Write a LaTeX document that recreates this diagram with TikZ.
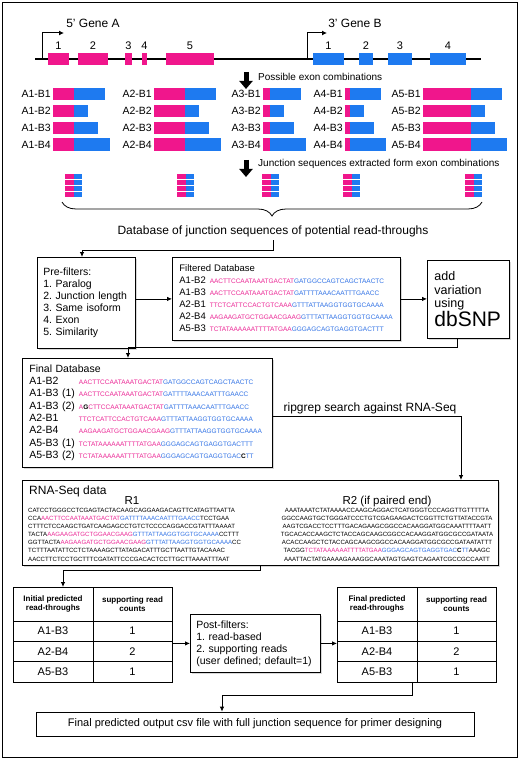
\documentclass[tikz,border=0pt]{standalone}
\usepackage{fontspec}
\setmainfont{Liberation Sans}
\usepackage{array}
\usetikzlibrary{arrows.meta,decorations.pathreplacing,shadows}
\frenchspacing

\definecolor{exonA}{RGB}{240,22,140}
\definecolor{exonB}{RGB}{30,122,240}
\definecolor{seqA}{RGB}{236,40,150}
\definecolor{seqB}{RGB}{50,115,230}

\newcommand{\seqa}[1]{\textcolor{seqA}{#1}}
\newcommand{\seqb}[1]{\textcolor{seqB}{#1}}
\newcommand{\snp}[1]{\textbf{#1}}
\newcommand{\seqfont}{\fontsize{6.5}{7}\selectfont}
\newcommand{\readfont}{\fontsize{6.1}{8.1}\selectfont}

\tikzset{
  box/.style={draw, line width=0.8pt, fill=white, drop shadow={shadow xshift=1.2pt, shadow yshift=-1.2pt, opacity=0.3}},
  conn/.style={line width=0.8pt, -{Latex[length=5pt,width=4.5pt]}},
  bigarrow/.style={line width=5pt, -{Triangle[length=8pt,width=13pt]}},
  exon/.style={fill=#1, minimum height=12.5pt, inner sep=0pt, outer sep=0pt},
  exonnum/.style={font=\fontsize{11}{13}\selectfont, inner sep=1pt},
  combo/.style={font=\fontsize{10.5}{12}\selectfont, inner sep=1pt, anchor=east},
  cell/.style={draw, line width=0.8pt, inner sep=0pt, outer sep=0pt, minimum height=20.33pt, font=\fontsize{11}{13}\selectfont},
  hdr/.style={minimum height=34pt, align=center, font=\bfseries\fontsize{8}{9.5}\selectfont},
}

\begin{document}
\begin{tikzpicture}[x=1pt,y=-1pt]
\useasboundingbox (0,0) rectangle (520,762);
\draw[line width=0.8pt, fill=white, drop shadow={shadow xshift=1.2pt, shadow yshift=-1.2pt, opacity=0.3}] (2,2) rectangle (517,757);

% gene structure
\draw[line width=1.5pt] (35,59) -- (481,59);
\coordinate (tssA) at (42,59);
\coordinate (tssB) at (307,59);
\draw[line width=1pt, -{Latex[length=5pt,width=5pt]}] (tssA) |- ++(22,-26);
\draw[line width=1pt, -{Latex[length=5pt,width=5pt]}] (tssB) |- ++(20,-26);
\node[font=\fontsize{12}{14}\selectfont] (geneA) at (93,23) {5' Gene A};
\node[font=\fontsize{12}{14}\selectfont] (geneB) at (355,23) {3' Gene B};
\foreach \n/\x/\w in {1/58.5/21, 2/93/30, 3/128.5/7, 4/144.5/5, 5/190/48} {
  \node[exon=exonA, minimum width=\w pt] (a\n) at (\x,59) {};
  \node[exonnum, above=2pt] (na\n) at (a\n.north) {\n};
}
\foreach \n/\x/\w in {1/328.5/31, 2/366/14, 3/400/24, 4/448/36} {
  \node[exon=exonB, minimum width=\w pt] (b\n) at (\x,59) {};
  \node[exonnum, above=2pt] (nb\n) at (b\n.north) {\n};
}

% exon combinations
\coordinate (ar1) at (246,72);
\draw[bigarrow] (ar1) -- ++(0,17);
\node[anchor=west, font=\fontsize{10}{12}\selectfont, inner sep=1pt] (poss) at (257,77) {Possible exon combinations};
\foreach \ga/\ax/\aw in {1/53/21, 2/154/31, 3/263/7, 4/345/5, 5/423/48}
  \foreach \gb/\bw in {1/31, 2/14, 3/24, 4/36} {
    \fill[exonA] (\ax,{88+16.8*(\gb-1)}) rectangle ++(\aw,12.5);
    \fill[exonB] ({\ax+\aw},{88+16.8*(\gb-1)}) rectangle ++(\bw,12.5);
    \node[combo] (c\ga\gb) at ({\ax-1},{94.25+16.8*(\gb-1)}) {A\ga-B\gb};
  }

% junction sequences
\coordinate (ar2) at (246,160);
\draw[bigarrow] (ar2) -- ++(0,17);
\node[anchor=west, font=\fontsize{10}{12}\selectfont, inner sep=1pt] (junc) at (257,164) {Junction sequences extracted form exon combinations};
\foreach \x in {65,177,262,343,465}
  \foreach \rw in {0,...,3} {
    \fill[exonA] (\x,{174+6*\rw}) rectangle ++(9,4.5);
    \fill[exonB] ({\x+9},{174+6*\rw}) rectangle ++(8,4.5);
  }
\draw[decorate, decoration={brace, amplitude=14pt}, line width=0.8pt] (482,202) -- (62,202);
\node[font=\fontsize{12}{14}\selectfont] (dbtitle) at (273,231) {Database of junction sequences of potential read-throughs};

% filtering
\node[box, anchor=north west, text width=86pt, inner xsep=6pt, minimum height=91pt, align=left, font=\fontsize{10.5}{12}\selectfont] (prefilt) at (37,257) {Pre-filters:\\1. Paralog\\2. Junction length\\3. Same isoform\\4. Exon\\5. Similarity};
\node[box, anchor=north west, text width=214pt, inner xsep=7pt, minimum height=83pt, align=left, font=\fontsize{9.5}{12}\selectfont] (filtdb) at (172,257) {%
\begin{tabular}{@{}l@{\hspace{4pt}}>{\seqfont}l@{}}
\multicolumn{2}{@{}l}{Filtered Database}\\
A1-B2 & \seqa{AACTTCCAATAAATGACTAT}\seqb{GATGGCCAGTCAGCTAACTC}\\
A1-B3 & \seqa{AACTTCCAATAAATGACTAT}\seqb{GATTTTAAACAATTTGAACC}\\
A2-B1 & \seqa{TTCTCATTCCACTGTCAAA}\seqb{GTTTATTAAGGTGGTGCAAAA}\\
A2-B4 & \seqa{AAGAAGATGCTGGAACGAAG}\seqb{GTTTATTAAGGTGGTGCAAAA}\\
A5-B3 & \seqa{TCTATAAAAAATTTTATGAA}\seqb{GGGAGCAGTGAGGTGACTTT}
\end{tabular}};
\node[box, anchor=north west, text width=68pt, inner xsep=7pt, minimum height=78pt, align=left, font=\fontsize{12.5}{13.5}\selectfont] (dbsnp) at (427,260) {add\\variation\\using\\{\fontsize{21}{22}\selectfont dbSNP}};
\node[box, anchor=north west, text width=236pt, inner xsep=7pt, minimum height=109pt, align=left, font=\fontsize{10.5}{12.3}\selectfont] (finaldb) at (22,358) {%
\begin{tabular}{@{}l@{\hspace{4pt}}>{\seqfont}l@{}}
\multicolumn{2}{@{}l}{Final Database}\\
A1-B2 & \seqa{AACTTCCAATAAATGACTAT}\seqb{GATGGCCAGTCAGCTAACTC}\\
A1-B3 (1) & \seqa{AACTTCCAATAAATGACTAT}\seqb{GATTTTAAACAATTTGAACC}\\
A1-B3 (2) & \seqa{A}\snp{G}\seqa{CTTCCAATAAATGACTAT}\seqb{GATTTTAAACAATTTGAACC}\\
A2-B1 & \seqa{TTCTCATTCCACTGTCAAA}\seqb{GTTTATTAAGGTGGTGCAAAA}\\
A2-B4 & \seqa{AAGAAGATGCTGGAACGAAG}\seqb{GTTTATTAAGGTGGTGCAAAA}\\
A5-B3 (1) & \seqa{TCTATAAAAAATTTTATGAA}\seqb{GGGAGCAGTGAGGTGACTTT}\\
A5-B3 (2) & \seqa{TCTATAAAAAATTTTATGAA}\seqb{GGGAGCAGTGAGGTGAC}\snp{C}\seqb{TT}
\end{tabular}};
\node[font=\fontsize{12}{14}\selectfont, anchor=base] (ripg) at (370,411) {ripgrep search against RNA-Seq};

% RNA-Seq reads
\node[box, anchor=north west, minimum width=476pt, minimum height=85pt] (rnabox) at (22,480) {};
\node[anchor=base west, font=\fontsize{12}{14}\selectfont, inner sep=0pt] (rnatitle) at (29,494) {RNA-Seq data};
\node[anchor=base, font=\fontsize{11.5}{14}\selectfont, inner sep=0pt] (r1head) at (132,504.5) {R1};
\node[anchor=base, font=\fontsize{11.5}{14}\selectfont, inner sep=0pt] (r2head) at (387,504.5) {R2 (if paired end)};
\node[anchor=north west, align=left, font=\readfont, inner sep=0pt] (r1reads) at (28,508) {%
CATCCTGGGCCTCGAGTACTACAAGCAGGAAGACAGTTCATAGTTAATTA\\
CCA\seqa{AACTTCCAATAAATGACTAT}\seqb{GATTTTAAACAATTTGAACC}TCCTGAA\\
CTTTCTCCAAGCTGATCAAGAGCCTGTCTCCCCAGGACCGTATTTAAAAT\\
TACTA\seqa{AAGAAGATGCTGGAACGAAG}\seqb{GTTTATTAAGGTGGTGCAAAA}CCTTT\\
GGTTACTA\seqa{AAGAAGATGCTGGAACGAAG}\seqb{GTTTATTAAGGTGGTGCAAAA}CC\\
TCTTTAATATTCCTCTAAAAGCTTATAGACATTTGCTTAATTGTACAAAC\\
AACCTTCTCCTGCTTTCGATATTCCCGACACTCCTTGCTTAAAATTTAAT};
\node[anchor=north, align=center, font=\readfont, inner sep=0pt] (r2reads) at (387,508) {%
AAATAAATCTATAAAACCAAGCAGGACTCATGGGTCCCAGGTTGTTTTTA\\
GGCCAAGTGCTGGGATCCCTGTCGAGAAGACTCGGTTCTGTTATACCGTA\\
AAGTCGACCTCCTTTGACAGAAGCGGCCACAAGGATGGCAAATTTTAATT\\
TGCACACCAAGCTCTACCAGCAAGCGGCCACAAGGATGGCGCCGATAATA\\
ACACCAAGCTCTACCAGCAAGCGGCCACAAGGATGGCGCCGATAATATTT\\
TACGG\seqa{TCTATAAAAAATTTTATGAA}\seqb{GGGAGCAGTGAGGTGAC}\snp{C}\seqb{TT}AAAGC\\
AAATTACTATGAAAAGAAAGGCAAATAGTGAGTCAGAATCGCCGCCAATT};

% result tables
\foreach \tb/\x/\w in {init/13/Initial, fin/337/Final} {
  \node[cell, hdr, anchor=north west, minimum width=80pt] (\tb-h1) at (\x,587) {\w\ predicted\\read-throughs};
  \node[cell, hdr, anchor=north west, minimum width=79pt] (\tb-h2) at (\tb-h1.north east) {supporting read\\counts};
  \foreach \rw/\nm/\v in {1/A1-B3/1, 2/A2-B4/2, 3/A5-B3/1} {
    \node[cell, anchor=north west, minimum width=80pt] (\tb-a\rw) at (\x,{621+20.33*(\rw-1)}) {\nm};
    \node[cell, anchor=north west, minimum width=79pt] (\tb-b\rw) at (\tb-a\rw.north east) {\v};
  }
}
\node[box, anchor=north west, text width=118pt, inner xsep=6pt, minimum height=58pt, align=left, font=\fontsize{10.5}{12}\selectfont] (postfilt) at (190,614) {Post-filters:\\1. read-based\\2. supporting reads\\(user defined; default=1)};
\node[box, minimum width=438pt, minimum height=24pt, font=\fontsize{11}{14}\selectfont] (output) at (255,724) {Final predicted output csv file with full junction sequence for primer designing};

% connectors
\coordinate (b1) at (82,250);
\draw[conn] (dbtitle.south) |- (b1) -- (b1 |- prefilt.north);
\draw[conn] (filtdb.west -| prefilt.east) -- (filtdb.west);
\draw[conn] (filtdb.east) -- (filtdb.east -| dbsnp.west);
\coordinate (d1) at (457,347);
\coordinate (d2) at (128,347);
\draw[conn] (d1 |- dbsnp.south) -- (d1) -- (d2) -- (d2 |- finaldb.north);
\coordinate (g1) at (461,416);
\draw[conn] (g1 -| finaldb.east) -- (g1) -- (g1 |- rnabox.north);
\coordinate (t1) at (63,570);
\draw[conn] (rnabox.south) |- (t1) -- (t1 |- init-h1.north);
\draw[conn] (postfilt.west -| init-b2.east) -- (postfilt.west);
\draw[conn] (postfilt.east) -- (postfilt.east -| fin-a2.west);
\coordinate (t2) at (412,695);
\coordinate (t3) at (222,695);
\draw[conn] (t2 |- fin-a3.south) -- (t2) -- (t3) -- (t3 |- output.north);
\end{tikzpicture}
\end{document}
